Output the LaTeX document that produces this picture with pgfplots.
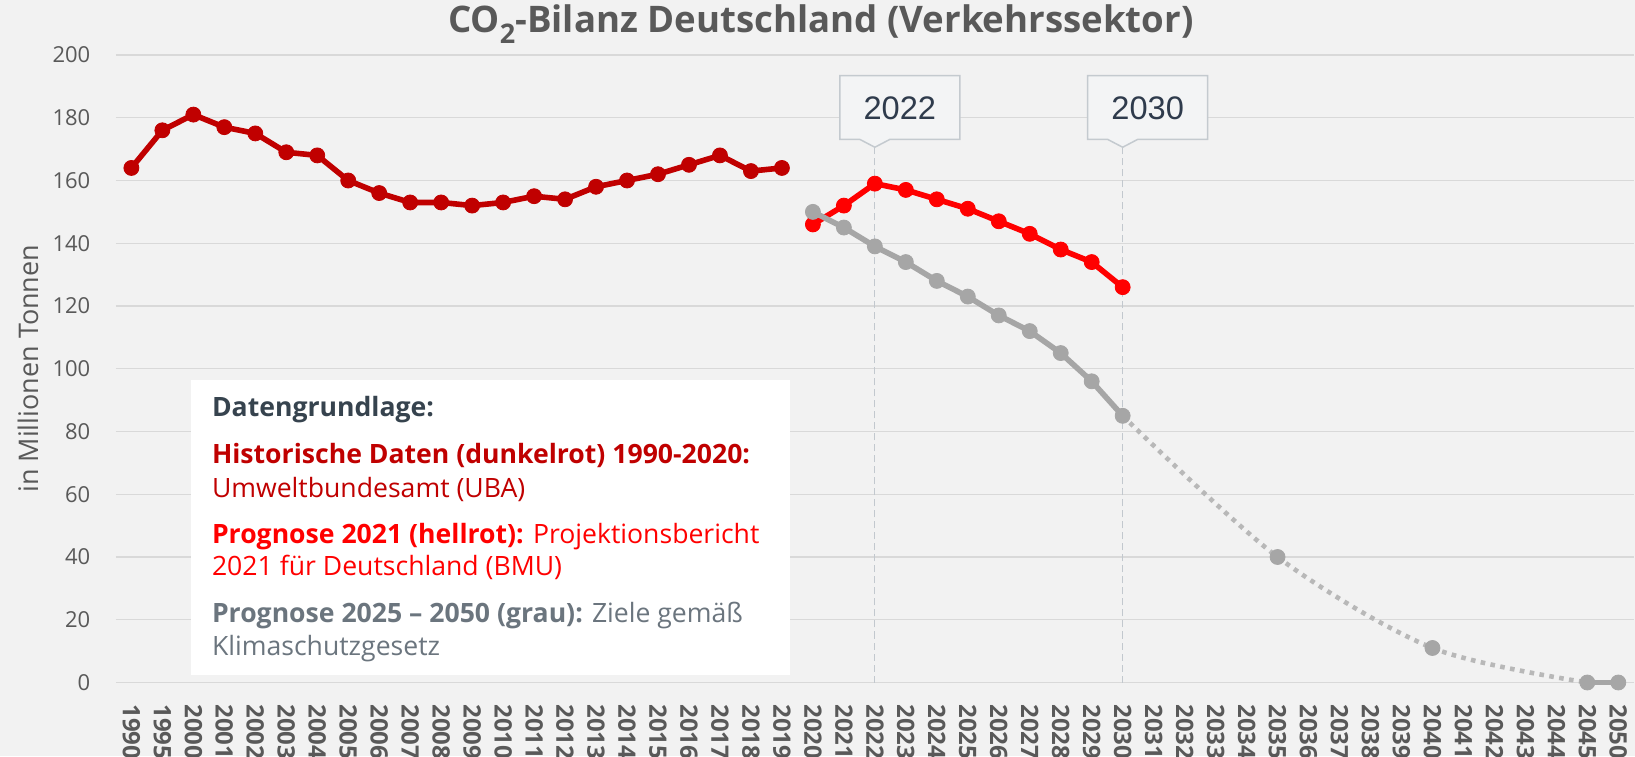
\documentclass[border=0pt]{standalone}
\usepackage{fontspec}
\setmainfont{Open Sans}
\newfontfamily\arialf{Liberation Sans}
\usepackage{pgfplots}
\pgfplotsset{compat=1.18}
\definecolor{bg}{HTML}{F2F2F2}
\definecolor{gridc}{HTML}{D9D9D9}
\definecolor{darkred}{HTML}{C00000}
\definecolor{lightred}{HTML}{FF0000}
\definecolor{graym}{HTML}{A6A6A6}
\definecolor{dotgray}{HTML}{B8B8B8}
\definecolor{tickc}{HTML}{595959}
\definecolor{titlec}{HTML}{595959}
\definecolor{slate}{HTML}{36434E}
\definecolor{leggray}{HTML}{6B757E}
\definecolor{cborder}{HTML}{C4CACF}
\definecolor{cfill}{HTML}{F3F4F5}
\definecolor{ctext}{HTML}{2F3B4C}
\definecolor{dashc}{HTML}{C2C8CE}
\pgfplotsset{dot/.style={mark=*, mark size=3.75pt, mark options={solid, line width=0.4pt, draw=#1, fill=#1}}}
\begin{document}
\begin{tikzpicture}
\path[use as bounding box, fill=bg] (-57.95pt,-36.75pt) rectangle (759.55pt,341.25pt);
\begin{axis}[
  at={(0,0)}, anchor=south west,
  scale only axis, width=758.95pt, height=313.75pt,
  xmin=-0.5, xmax=48.5, ymin=0, ymax=200,
  axis line style={draw=none}, tick style={draw=none},
  ymajorgrids, grid style={color=gridc, line width=0.65pt},
  ytick={0,20,...,200},
  xtick={0,...,48},
  xticklabels={1990,1995,2000,2001,2002,2003,2004,2005,2006,2007,2008,2009,2010,2011,2012,2013,2014,2015,2016,2017,2018,2019,2020,2021,2022,2023,2024,2025,2026,2027,2028,2029,2030,2031,2032,2033,2034,2035,2036,2037,2038,2039,2040,2041,2042,2043,2044,2045,2050},
  /pgf/number format/assume math mode=true,
  yticklabel style={font=\fontsize{11}{13}\selectfont, text=tickc, inner sep=0pt, anchor=east, xshift=-12.6pt},
  xticklabel style={font=\fontsize{12}{14}\selectfont\bfseries, text=tickc, inner sep=0pt, yshift=-10.8pt, rotate=-90, anchor=west},
  ylabel={in Millionen Tonnen},
  every axis y label/.style={at={(axis description cs:0,0.5)}, xshift=-38.5pt, rotate=90, anchor=south, inner sep=0pt, font=\fontsize{13.5}{16}\selectfont, text=tickc},
  clip=false,
]
% vertical dashed reference lines
\addplot[dashc, line width=0.55pt, dash pattern=on 3.5pt off 2pt] coordinates {(24,0) (24,170.6)};
\addplot[dashc, line width=0.55pt, dash pattern=on 3.5pt off 2pt] coordinates {(32,0) (32,170.6)};
% historical (dark red)
\addplot[darkred, line width=2.8pt, line join=round, dot=darkred] coordinates {
(0,164) (1,176) (2,181) (3,177) (4,175) (5,169) (6,168) (7,160) (8,156) (9,153) (10,153)
(11,152) (12,153) (13,155) (14,154) (15,158) (16,160) (17,162) (18,165) (19,168) (20,163) (21,164)};
% forecast 2021 (light red)
\addplot[lightred, line width=2.8pt, line join=round, dot=lightred] coordinates {
(22,146) (23,152) (24,159) (25,157) (26,154) (27,151) (28,147) (29,143) (30,138) (31,134) (32,126)};
% targets dotted
\addplot[dotgray, line width=2.3pt, dash pattern=on 2.3pt off 2.7pt, smooth] coordinates {(32,85) (37,40) (42,11) (47,0)};
\addplot[graym, only marks, dot=graym] coordinates {(37,40) (42,11)};
\addplot[graym, line width=2.2pt, dot=graym] coordinates {(47,0) (48,0)};
% targets solid (gray)
\addplot[graym, line width=2.8pt, line join=round, dot=graym] coordinates {
(22,150) (23,145) (24,139) (25,134) (26,128) (27,123) (28,117) (29,112) (30,105) (31,96) (32,85)};
% callouts
\draw[cborder, line width=0.75pt, fill=cfill] (axis cs:22.870,193.4) -- (axis cs:26.743,193.4) -- (axis cs:26.743,173.1) -- (axis cs:24.484,173.1) -- (axis cs:24,170.6) -- (axis cs:23.516,173.1) -- (axis cs:22.870,173.1) -- cycle;
\node[anchor=base, font=\arialf\fontsize{16.3}{18}\selectfont, text=ctext, inner sep=0pt] at (axis cs:24.807,179.3) {2022};
\draw[cborder, line width=0.75pt, fill=cfill] (axis cs:30.870,193.4) -- (axis cs:34.743,193.4) -- (axis cs:34.743,173.1) -- (axis cs:32.484,173.1) -- (axis cs:32,170.6) -- (axis cs:31.516,173.1) -- (axis cs:30.870,173.1) -- cycle;
\node[anchor=base, font=\arialf\fontsize{16.3}{18}\selectfont, text=ctext, inner sep=0pt] at (axis cs:32.807,179.3) {2030};
% info box
\fill[white] (axis cs:1.924,96.3) rectangle (axis cs:21.26,2.46);
\begin{scope}[every node/.style={anchor=base west, inner sep=0pt, font=\fontsize{13.3}{16.5}\selectfont}]
\node[text=slate] at (axis cs:2.59,84.94) {\bfseries Datengrundlage:};
\node[text=darkred] at (axis cs:2.59,69.76) {\bfseries Historische Daten (dunkelrot) 1990-2020:};
\node[text=darkred] at (axis cs:2.59,59.11) {Umweltbundesamt (UBA)};
\node[text=lightred] at (axis cs:2.59,44.24) {\textbf{Prognose 2021 (hellrot):} Projektionsbericht};
\node[text=lightred] at (axis cs:2.59,34.13) {2021 für Deutschland (BMU)};
\node[text=leggray] at (axis cs:2.59,19.23) {\textbf{Prognose 2025 – 2050 (grau):} Ziele gemäß};
\node[text=leggray] at (axis cs:2.59,8.61) {Klimaschutzgesetz};
\end{scope}
\end{axis}
\node[anchor=base, font=\bfseries\fontsize{18.3}{21}\selectfont, text=titlec, inner sep=0pt] at (352.5pt,325.2pt) {CO\raisebox{-5.5pt}{\fontsize{13.5}{14}\selectfont 2}-Bilanz Deutschland (Verkehrssektor)};
\end{tikzpicture}
\end{document}
